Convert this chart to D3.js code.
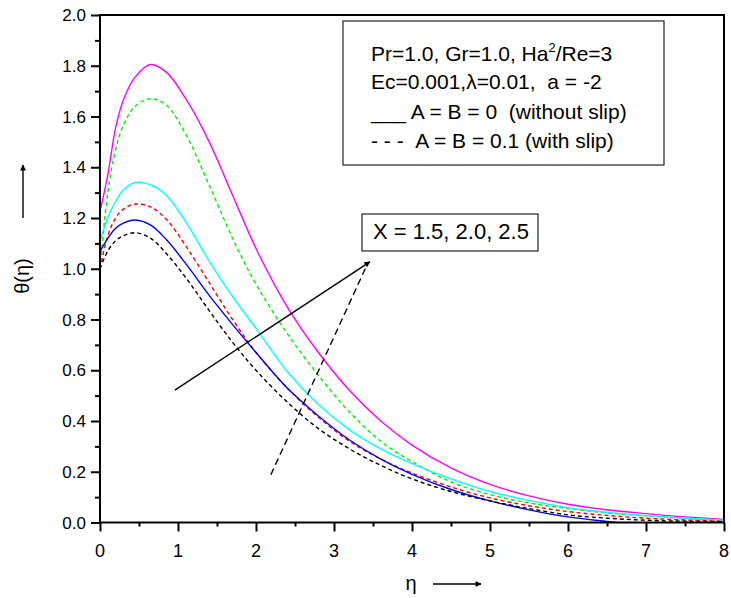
<!DOCTYPE html>
<html>
<head>
<meta charset="utf-8">
<script src="https://cdn.jsdelivr.net/npm/d3@7"></script>
<style>
  body { margin: 0; background: #fff; }
  svg { display: block; font-family: "Liberation Sans", Arial, sans-serif; }
</style>
</head>
<body>
<div id="chart"></div>
<script>
// eta grid shared by every curve
const eta = [0, 0.1, 0.2, 0.3, 0.45, 0.65, 0.85, 1.1, 1.4, 1.7, 2.0, 2.4, 2.8, 3.2, 3.6, 4.0, 4.5, 5.0, 5.5, 6.0, 6.5, 7.0, 7.5, 8.0];

// theta values
const magentaX25 = [1.225, 1.37, 1.555, 1.665, 1.755, 1.805, 1.775, 1.67, 1.50, 1.29, 1.08, 0.85, 0.67, 0.52, 0.40, 0.305, 0.215, 0.15, 0.105, 0.072, 0.05, 0.035, 0.022, 0.012];
const greenX25   = [1.0, 1.30, 1.47, 1.565, 1.64, 1.67, 1.645, 1.53, 1.33, 1.12, 0.94, 0.745, 0.58, 0.435, 0.32, 0.24, 0.16, 0.11, 0.077, 0.055, 0.038, 0.026, 0.016, 0.009];
const cyanX20    = [1.11, 1.20, 1.265, 1.31, 1.34, 1.33, 1.29, 1.185, 1.03, 0.89, 0.765, 0.595, 0.465, 0.365, 0.29, 0.232, 0.172, 0.122, 0.087, 0.058, 0.04, 0.027, 0.017, 0.009];
const redX20     = [1.0, 1.13, 1.20, 1.235, 1.255, 1.243, 1.195, 1.09, 0.945, 0.80, 0.67, 0.53, 0.415, 0.32, 0.25, 0.195, 0.14, 0.097, 0.066, 0.043, 0.028, 0.017, 0.01, 0.005];
const blueX15    = [1.067, 1.12, 1.16, 1.18, 1.192, 1.172, 1.115, 1.02, 0.895, 0.78, 0.67, 0.53, 0.42, 0.325, 0.25, 0.19, 0.13, 0.085, 0.05, 0.022, 0.004, -0.012, -0.03, -0.05];
const blackX15   = [1.0, 1.07, 1.11, 1.13, 1.142, 1.12, 1.06, 0.965, 0.835, 0.71, 0.60, 0.475, 0.37, 0.29, 0.225, 0.172, 0.122, 0.085, 0.055, 0.03, 0.017, 0.009, 0.005, 0.003];

const series = [
  { values: magentaX25, color: '#ff00ff', dash: null },
  { values: greenX25,   color: '#00ee00', dash: '4,3' },
  { values: cyanX20,    color: '#00ffff', dash: null },
  { values: redX20,     color: '#ff0000', dash: '4,3' },
  { values: blueX15,    color: '#0000ff', dash: null },
  { values: blackX15,   color: '#000000', dash: '4,3' }
];

const xTicks = [0, 1, 2, 3, 4, 5, 6, 7, 8];
const yTicks = [0.0, 0.2, 0.4, 0.6, 0.8, 1.0, 1.2, 1.4, 1.6, 1.8, 2.0];

// annotation arrows in data units
const solidArrow = [[0.96, 0.522], [3.46, 1.027]];
const dashedArrow = [[2.19, 0.188], [3.43, 1.02]];

const W = 731, H = 598;
const pL = 100, pR = 724, pT = 15, pB = 522.5;
const nb = '\u00a0';

const svg = d3.select('#chart').append('svg')
  .attr('width', W)
  .attr('height', H);

const defs = svg.append('defs');
defs.append('clipPath').attr('id', 'plot')
  .append('rect')
  .attr('x', pL).attr('y', pT)
  .attr('width', pR - pL).attr('height', pB - pT);
defs.append('marker')
  .attr('id', 'head')
  .attr('viewBox', '0 0 10 10')
  .attr('refX', 9).attr('refY', 5)
  .attr('markerWidth', 10).attr('markerHeight', 6)
  .attr('markerUnits', 'userSpaceOnUse')
  .attr('orient', 'auto')
  .append('path')
  .attr('d', 'M0,0 L10,5 L0,10 Z')
  .attr('fill', '#000');

const x = d3.scaleLinear().domain([0, 8]).range([pL, pR]);
const y = d3.scaleLinear().domain([0, 2]).range([pB, pT]);

// axes: minor ticks then major ticks
svg.append('g')
  .attr('transform', `translate(0,${pB})`)
  .call(d3.axisBottom(x).tickValues(d3.range(0.5, 8, 1)).tickSize(4).tickFormat(''))
  .call(g => g.select('.domain').remove());
svg.append('g')
  .attr('transform', `translate(0,${pB})`)
  .call(d3.axisBottom(x).tickValues(xTicks).tickSize(9).tickFormat(''))
  .call(g => g.select('.domain').remove());

svg.append('g')
  .attr('transform', `translate(${pL},0)`)
  .call(d3.axisLeft(y).tickValues(d3.range(0.1, 2, 0.2)).tickSize(5).tickFormat(''))
  .call(g => g.select('.domain').remove());
svg.append('g')
  .attr('transform', `translate(${pL},0)`)
  .call(d3.axisLeft(y).tickValues(yTicks).tickSize(9).tickFormat(''))
  .call(g => g.select('.domain').remove());

svg.selectAll('.tick line').attr('stroke', '#000').attr('stroke-width', 2);

svg.append('g').selectAll('text')
  .data(xTicks)
  .join('text')
  .attr('x', d => x(d))
  .attr('y', 557)
  .attr('text-anchor', 'middle')
  .attr('font-size', 18)
  .text(d => d);

svg.append('g').selectAll('text')
  .data(yTicks)
  .join('text')
  .attr('x', 86)
  .attr('y', d => y(d) + 6)
  .attr('text-anchor', 'end')
  .attr('font-size', 17)
  .text(d => d.toFixed(1));

// curves
const line = d3.line()
  .x((d, i) => x(eta[i]))
  .y(d => y(d))
  .curve(d3.curveCatmullRom.alpha(0.5));

svg.append('g')
  .attr('clip-path', 'url(#plot)')
  .selectAll('path')
  .data(series)
  .join('path')
  .attr('d', d => line(d.values))
  .attr('fill', 'none')
  .attr('stroke', d => d.color)
  .attr('stroke-width', 1.4)
  .attr('stroke-dasharray', d => d.dash);

// frame
svg.append('rect')
  .attr('x', pL).attr('y', pT)
  .attr('width', pR - pL).attr('height', pB - pT)
  .attr('fill', 'none')
  .attr('stroke', '#000')
  .attr('stroke-width', 2);

// annotation arrows
const seg = d3.line().x(d => x(d[0])).y(d => y(d[1]));
svg.append('path')
  .attr('d', seg(solidArrow))
  .attr('stroke', '#000').attr('stroke-width', 1.4)
  .attr('fill', 'none')
  .attr('marker-end', 'url(#head)');
svg.append('path')
  .attr('d', seg(dashedArrow))
  .attr('stroke', '#000').attr('stroke-width', 1.4)
  .attr('stroke-dasharray', '7,4')
  .attr('fill', 'none');

// X label box
svg.append('rect')
  .attr('x', 362).attr('y', 214)
  .attr('width', 176).attr('height', 37)
  .attr('fill', '#fff').attr('stroke', '#222').attr('stroke-width', 1.2);
svg.append('text')
  .attr('x', 373).attr('y', 238.5)
  .attr('font-size', 22)
  .text('X = 1.5, 2.0, 2.5');

// parameter box
svg.append('rect')
  .attr('x', 343).attr('y', 21)
  .attr('width', 321).attr('height', 144)
  .attr('fill', '#fff').attr('stroke', '#222').attr('stroke-width', 1.2);

const info = svg.append('g').attr('font-size', 21);
const l1 = info.append('text').attr('x', 371).attr('y', 60.5);
l1.append('tspan').text('Pr=1.0, Gr=1.0, Ha');
l1.append('tspan').attr('font-size', 13).attr('dy', -9).text('2');
l1.append('tspan').attr('dy', 9).text('/Re=3');
info.append('text').attr('x', 371).attr('y', 89).text('Ec=0.001,\u03bb=0.01,' + nb + nb + 'a = -2');
info.append('text').attr('x', 371).attr('y', 119).text('___ A = B = 0' + nb + nb + '(without slip)');
info.append('text').attr('x', 371).attr('y', 148).text('- - -' + nb + nb + 'A = B = 0.1 (with slip)');

// axis titles with arrows
svg.append('text')
  .attr('transform', 'translate(29,276) rotate(-90)')
  .attr('text-anchor', 'middle')
  .attr('font-size', 20)
  .text('\u03b8(\u03b7)');
svg.append('line')
  .attr('x1', 23).attr('y1', 218).attr('x2', 23).attr('y2', 165)
  .attr('stroke', '#000').attr('stroke-width', 1.4)
  .attr('marker-end', 'url(#head)');

svg.append('text')
  .attr('x', 411).attr('y', 590)
  .attr('text-anchor', 'middle')
  .attr('font-size', 20)
  .text('\u03b7');
svg.append('line')
  .attr('x1', 433).attr('y1', 584).attr('x2', 481).attr('y2', 584)
  .attr('stroke', '#000').attr('stroke-width', 1.4)
  .attr('marker-end', 'url(#head)');
</script>
</body>
</html>
